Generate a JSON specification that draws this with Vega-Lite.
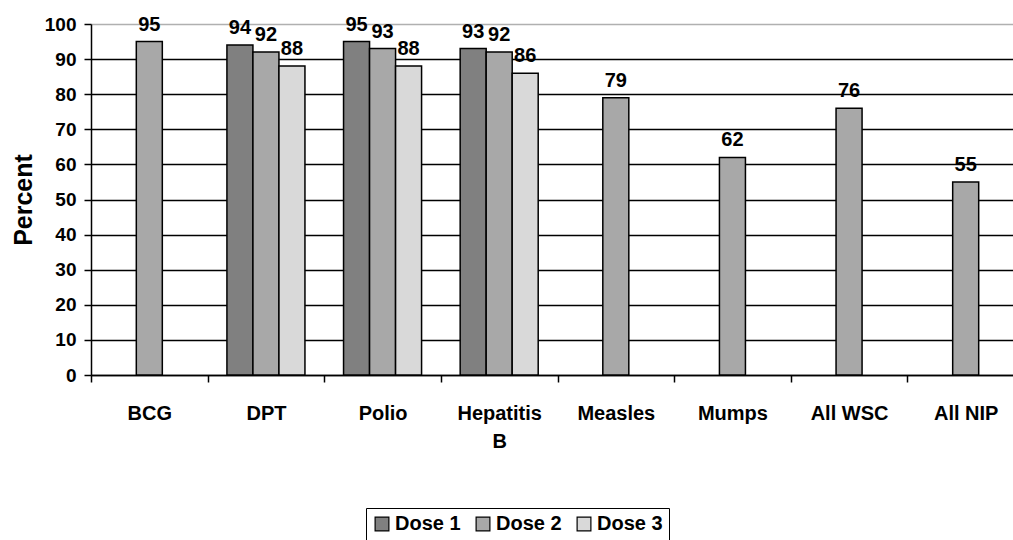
{
  "$schema": "https://vega.github.io/schema/vega-lite/v6.json",
  "autosize": {"type": "none"},
  "width": 922,
  "height": 351,
  "padding": {"left": 91, "top": 24, "right": 0, "bottom": 165},
  "background": "white",
  "data": {
    "values": [
      {"vaccine": "BCG", "dose": "Dose 2", "pct": 95},
      {"vaccine": "DPT", "dose": "Dose 1", "pct": 94},
      {"vaccine": "DPT", "dose": "Dose 2", "pct": 92},
      {"vaccine": "DPT", "dose": "Dose 3", "pct": 88},
      {"vaccine": "Polio", "dose": "Dose 1", "pct": 95},
      {"vaccine": "Polio", "dose": "Dose 2", "pct": 93},
      {"vaccine": "Polio", "dose": "Dose 3", "pct": 88},
      {"vaccine": "Hepatitis B", "dose": "Dose 1", "pct": 93},
      {"vaccine": "Hepatitis B", "dose": "Dose 2", "pct": 92},
      {"vaccine": "Hepatitis B", "dose": "Dose 3", "pct": 86},
      {"vaccine": "Measles", "dose": "Dose 2", "pct": 79},
      {"vaccine": "Mumps", "dose": "Dose 2", "pct": 62},
      {"vaccine": "All WSC", "dose": "Dose 2", "pct": 76},
      {"vaccine": "All NIP", "dose": "Dose 2", "pct": 55}
    ]
  },
  "config": {
    "font": "Liberation Sans",
    "view": {"stroke": null}
  },
  "encoding": {
    "x": {
      "field": "vaccine",
      "type": "nominal",
      "sort": ["BCG", "DPT", "Polio", "Hepatitis B", "Measles", "Mumps", "All WSC", "All NIP"],
      "scale": {"paddingInner": 0, "paddingOuter": 0, "range": [0, 933]},
      "axis": {
        "title": null,
        "labelAngle": 0,
        "labelFont": "Liberation Sans",
        "labelFontWeight": "bold",
        "labelFontSize": 20,
        "labelColor": "black",
        "labelPadding": 21,
        "labelLineHeight": 28,
        "labelBaseline": "top",
        "labelExpr": "datum.label == 'Hepatitis B' ? ['Hepatitis', 'B'] : datum.label",
        "tickBand": "extent",
        "tickColor": "black",
        "tickSize": 7,
        "tickWidth": 1.5,
        "domainColor": "black",
        "domainWidth": 1.5,
        "grid": false
      }
    },
    "xOffset": {
      "field": "dose",
      "type": "nominal",
      "sort": ["Dose 1", "Dose 2", "Dose 3"],
      "scale": {"domain": ["Dose 1", "Dose 2", "Dose 3"], "paddingInner": 0, "paddingOuter": 0.742}
    },
    "y": {
      "field": "pct",
      "type": "quantitative",
      "scale": {"domain": [0, 100], "nice": false},
      "axis": {
        "title": "Percent",
        "titleFont": "Liberation Sans",
        "titleFontSize": 25,
        "titleFontWeight": "bold",
        "titleColor": "black",
        "titlePadding": 8,
        "values": [0, 10, 20, 30, 40, 50, 60, 70, 80, 90, 100],
        "labelFont": "Liberation Sans",
        "labelFontWeight": "bold",
        "labelFontSize": 19,
        "labelColor": "black",
        "labelPadding": 8,
        "tickColor": "black",
        "tickSize": 7,
        "tickWidth": 1.5,
        "domainColor": "black",
        "domainWidth": 1.5,
        "grid": true,
        "gridColor": {"condition": {"test": "datum.value === 100", "value": "#b0b0b0"}, "value": "black"},
        "gridWidth": 1.3,
        "gridOpacity": 1
      }
    }
  },
  "layer": [
    {
      "mark": {"type": "bar", "stroke": "black", "strokeWidth": 1.5},
      "encoding": {
        "color": {
          "field": "dose",
          "type": "nominal",
          "scale": {"domain": ["Dose 1", "Dose 2", "Dose 3"], "range": ["#808080", "#a8a8a8", "#d9d9d9"]},
          "legend": {
            "title": null,
            "orient": "none",
            "legendX": 275,
            "legendY": 484,
            "direction": "horizontal",
            "symbolType": "square",
            "symbolSize": 190,
            "symbolStrokeColor": "black",
            "symbolStrokeWidth": 1.2,
            "symbolOpacity": 1,
            "labelFont": "Liberation Sans",
            "labelFontSize": 20,
            "labelFontWeight": "bold",
            "labelColor": "black",
            "labelOffset": 3,
            "columnPadding": 12,
            "strokeColor": "black",
            "padding": 6,
            "fillColor": "white"
          }
        }
      }
    },
    {
      "mark": {"type": "text", "baseline": "alphabetic", "dy": -11, "fontSize": 20, "fontWeight": "bold", "font": "Liberation Sans", "color": "black"},
      "encoding": {
        "text": {"field": "pct", "type": "quantitative"}
      }
    }
  ]
}
